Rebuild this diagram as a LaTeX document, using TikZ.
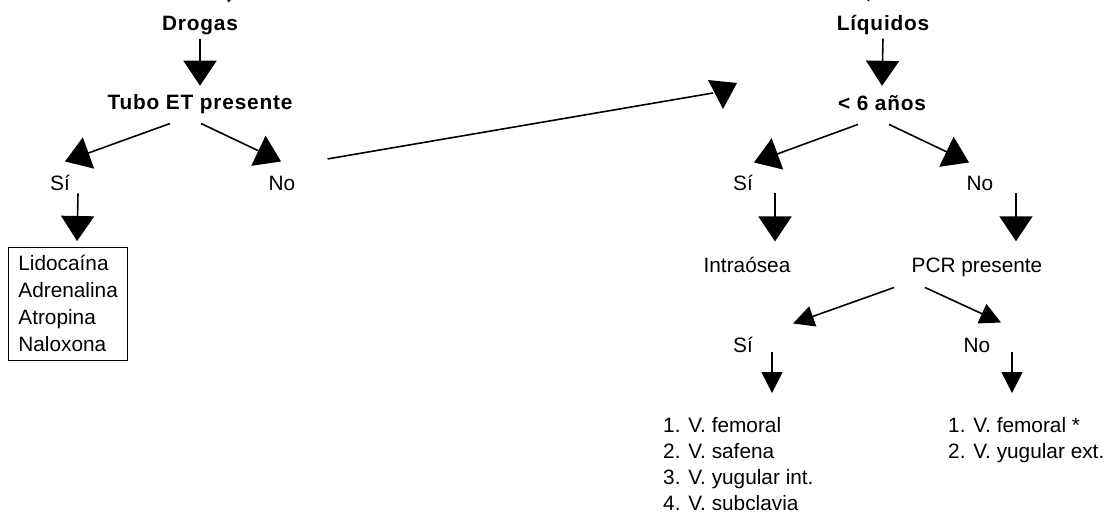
\documentclass[tikz,border=0pt]{standalone}
\usepackage{fontspec}
\setmainfont{Liberation Sans}
\newfontfamily\titulofam[LetterSpace=4]{Liberation Sans}
\usepackage{tikz}
\usetikzlibrary{arrows.meta,positioning}
\newcommand{\letratit}{\titulofam\bfseries\fontsize{20.8}{26}\selectfont}
\newcommand{\letranorm}{\fontsize{20.8}{26}\selectfont}
\tikzset{
  cabeza/.style={font=\letratit,inner sep=0pt,anchor=base},
  rama/.style={font=\letranorm,inner sep=0pt,anchor=base},
  lista/.style={font=\letranorm,inner sep=0pt,align=left,anchor=north west},
  caja/.style={draw,line width=0.8pt,font=\fontsize{20.8}{27}\selectfont,align=left,
               inner xsep=10pt,inner ysep=8pt,anchor=north west},
  linea/.style={line width=1.6pt},
  flecha/.style={line width=1.6pt,-{Triangle[length=25pt,width=33pt]}},
  flechita/.style={line width=1.6pt,-{Triangle[length=21pt,width=21pt]}},
}

\begin{document}
\begin{tikzpicture}[x=1pt,y=-1pt]
  \useasboundingbox[fill=white] (0,0) rectangle (1114,516);
  % drogas
  \node[cabeza] (drogas) at (200,31) {Drogas};
  \node[cabeza] (tubo) at (200,110) {Tubo ET presente};
  \node[rama] (si1) at (60,190) {Sí};
  \node[rama] (no1) at (282,190) {No};
  \node[caja] (meds) at (8,247) {Lidocaína\\Adrenalina\\Atropina\\Naloxona};
  % liquidos
  \node[cabeza] (liq) at (883,31) {Líquidos};
  \node[cabeza] (edad) at (882,111) {< 6 años};
  \node[rama] (si2) at (743,190) {Sí};
  \node[rama] (no2) at (980,190) {No};
  \node[rama] (intra) at (747,272) {Intraósea};
  \node[rama] (pcr) at (977,272) {PCR presente};
  \node[rama] (si3) at (743,352) {Sí};
  \node[rama] (no3) at (977,352) {No};
  \node[lista] (venas1) at (663,417) {1. V. femoral\\2. V. safena\\3. V. yugular int.\\4. V. subclavia};
  \node[lista] (venas2) at (948,417) {1. V. femoral *\\2. V. yugular ext.};
  \coordinate (salto) at (713,93);

  \begin{scope}
    \clip (0,0) rectangle (1114,516);
    \coordinate (arriba1) at (260,-100);
    \coordinate (arriba2) at (830,-100);
    \draw[flecha] (arriba1) -- ([xshift=28,yshift=14]drogas.north);
    \draw[flecha] (arriba2) -- ([xshift=-14,yshift=14]liq.north);
  \end{scope}

  \draw[flecha] ([yshift=-3]drogas.south) -- ([yshift=9]tubo.north);
  \draw[flecha] ([xshift=-30,yshift=-9]tubo.south) -- ([xshift=5,yshift=13]si1.north);
  \draw[flecha] ([xshift=1,yshift=-9]tubo.south) -- ([xshift=-1,yshift=14]no1.north);
  \draw[flecha] ([xshift=18,yshift=-3]si1.south) -- ([xshift=9,yshift=6]meds.north);
  \draw[linea] ([xshift=32,yshift=24]no1.east) -- (salto);
  \fill (salto) ++(-5,-13) -- ++(29,3) -- ++(-14,26) -- cycle;

  \draw[flecha] ([yshift=-3]liq.south) -- ([yshift=10]edad.north);
  \draw[flecha] ([xshift=-24,yshift=-13]edad.south) -- ([xshift=11,yshift=12]si2.north);
  \draw[flecha] ([xshift=7,yshift=-13]edad.south) -- ([xshift=-11,yshift=13]no2.north);
  \draw[flecha] ([xshift=32,yshift=-3]si2.south) -- ([xshift=28,yshift=15]intra.north);
  \draw[flecha] ([xshift=36,yshift=-3]no2.south) -- ([xshift=39,yshift=16]pcr.north);
  \draw[flechita] ([xshift=-83,yshift=-11]pcr.south) -- ([xshift=50,yshift=13]si3.north);
  \draw[flechita] ([xshift=-52,yshift=-11]pcr.south) -- ([xshift=24,yshift=15]no3.north);
  \draw[flechita] ([xshift=29]si3.south) -- ([xshift=109,yshift=24]venas1.north west);
  \draw[flechita] ([xshift=35]no3.south) -- ([xshift=64,yshift=24]venas2.north west);
\end{tikzpicture}
\end{document}
